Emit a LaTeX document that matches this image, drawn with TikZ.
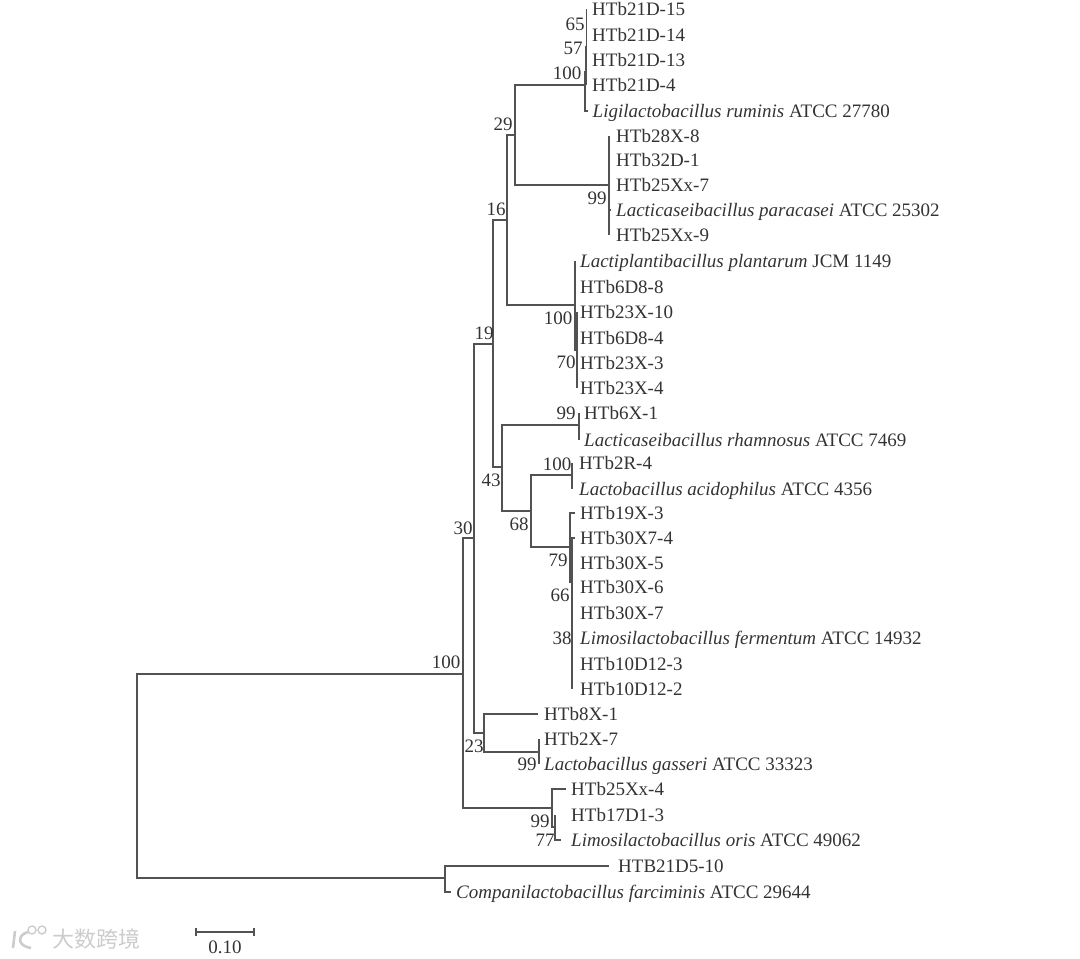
\documentclass[tikz,border=0pt]{standalone}
\usepackage{fontspec}
\setmainfont{Liberation Serif}
\newfontfamily\cjkfont{Noto Sans CJK SC}
\definecolor{treeline}{gray}{0.32}
\definecolor{treetext}{gray}{0.2}
\definecolor{markgray}{gray}{0.8}
\tikzset{
  branch/.style={draw=treeline,line width=1.2pt},
  leaf/.style={anchor=west,inner xsep=#1,inner ysep=0pt,text=treetext,font=\fontsize{19}{21}\selectfont,text height=16pt,text depth=4pt},
  boot/.style={inner sep=0pt,text=treetext,font=\fontsize{19}{21}\selectfont}
}
\newcommand{\leafnode}[5]{\node[leaf=#5pt] (#1) at (#2,#3) {#4};}
\newcommand{\innode}[3]{\coordinate (#1) at (#2,#3);}
\newcommand{\bootval}[4]{\node[boot] (#1) at (#2,#3) {#4};}

\begin{document}
\begin{tikzpicture}[x=1pt,y=-1pt]
\useasboundingbox (0,0) rectangle (1080,959);
% inner nodes
\innode{root}{137}{776}
\innode{nTop}{463}{674}
\innode{nOut}{445}{878}
\innode{nThirty}{474}{538}
\innode{nOris}{552}{808}
\innode{nNineteen}{493}{344}
\innode{nGas}{484}{733}
\innode{nSixteen}{507}{220}
\innode{nFortythree}{502}{467}
\innode{nTwentynine}{515}{135}
\innode{nPlant}{575}{305}
\innode{nRum}{585}{85}
\innode{nPara}{609}{185}
\innode{nFiftyseven}{586}{72}
\innode{nSixtyfive}{586.8}{47}
\innode{nSeventy}{577}{350}
\innode{nRham}{579}{425}
\innode{nSixtyeight}{531}{511}
\innode{nAcid}{572}{475}
\innode{nSeventynine}{570}{547}
\innode{nSixtysix}{572}{582}
\innode{nThirtyeight}{572}{626}
\innode{nGasseri}{539}{752}
\innode{nSeventyseven}{555}{827}
% leaves
\leafnode{hA}{586.8}{9}{HTb21D-15}{5.2}
\leafnode{hB}{586.8}{35}{HTb21D-14}{5.2}
\leafnode{hC}{586}{60}{HTb21D-13}{6}
\leafnode{hD}{586}{85}{HTb21D-4}{6}
\leafnode{sRum}{587.5}{111}{\textit{Ligilactobacillus ruminis} ATCC 27780}{5}
\leafnode{hE}{609}{136}{HTb28X-8}{7}
\leafnode{hF}{609}{160}{HTb32D-1}{7}
\leafnode{hG}{609}{185}{HTb25Xx-7}{7}
\leafnode{sPara}{611}{210}{\textit{Lacticaseibacillus paracasei} ATCC 25302}{5}
\leafnode{hH}{609}{235}{HTb25Xx-9}{7}
\leafnode{sPlant}{575}{261}{\textit{Lactiplantibacillus plantarum} JCM 1149}{5}
\leafnode{hI}{575}{287}{HTb6D8-8}{5}
\leafnode{hJ}{577}{312}{HTb23X-10}{3}
\leafnode{hK}{577}{338}{HTb6D8-4}{3}
\leafnode{hL}{577}{363}{HTb23X-3}{3}
\leafnode{hM}{577}{388}{HTb23X-4}{3}
\leafnode{hN}{579}{413}{HTb6X-1}{5}
\leafnode{sRham}{579}{440}{\textit{Lacticaseibacillus rhamnosus} ATCC 7469}{5}
\leafnode{hO}{572}{463}{HTb2R-4}{7}
\leafnode{sAcid}{572}{489}{\textit{Lactobacillus acidophilus} ATCC 4356}{7}
\leafnode{hP}{575}{513}{HTb19X-3}{5}
\leafnode{hQ}{575}{538}{HTb30X7-4}{5}
\leafnode{hR}{572}{563}{HTb30X-5}{8}
\leafnode{hS}{572}{587}{HTb30X-6}{8}
\leafnode{hT}{572}{613}{HTb30X-7}{8}
\leafnode{sFerm}{572}{638}{\textit{Limosilactobacillus fermentum} ATCC 14932}{8}
\leafnode{hU}{572}{664}{HTb10D12-3}{8}
\leafnode{hV}{572}{689}{HTb10D12-2}{8}
\leafnode{hW}{538}{714}{HTb8X-1}{6}
\leafnode{hX}{539}{739}{HTb2X-7}{5}
\leafnode{sGas}{539}{764}{\textit{Lactobacillus gasseri} ATCC 33323}{5}
\leafnode{hY}{566}{789}{HTb25Xx-4}{5}
\leafnode{hZ}{555}{815}{HTb17D1-3}{16}
\leafnode{sOris}{561}{840}{\textit{Limosilactobacillus oris} ATCC 49062}{10}
\leafnode{hOut}{609}{866}{HTB21D5-10}{9}
\leafnode{sFarc}{451}{892}{\textit{Companilactobacillus farciminis} ATCC 29644}{5}
% branches
\draw[branch] (root) |- (nTop);
\draw[branch] (root) |- (nOut);
\draw[branch] (nOut) |- (hOut.west);
\draw[branch] (nOut) |- (sFarc.west);
\draw[branch] (nTop) |- (nThirty);
\draw[branch] (nTop) |- (nOris);
\draw[branch] (nThirty) |- (nNineteen);
\draw[branch] (nThirty) |- (nGas);
\draw[branch] (nNineteen) |- (nSixteen);
\draw[branch] (nNineteen) |- (nFortythree);
\draw[branch] (nSixteen) |- (nTwentynine);
\draw[branch] (nSixteen) |- (nPlant);
\draw[branch] (nTwentynine) |- (nRum);
\draw[branch] (nTwentynine) |- (nPara);
\draw[branch] (nRum) |- (sRum.west);
\draw[branch] (nRum) |- (nFiftyseven);
\draw[branch] (nFiftyseven) |- (hD.west);
\draw[branch] (nFiftyseven) |- (hC.west);
\draw[branch] (nFiftyseven) |- (nSixtyfive);
\draw[branch] (nSixtyfive) |- (hA.west);
\draw[branch] (nSixtyfive) |- (hB.west);
\draw[branch] (nPara) |- (hE.west);
\draw[branch] (nPara) |- (sPara.west);
\draw[branch] (nPara) |- (hH.west);
\draw[branch] (nPlant) |- (sPlant.west);
\draw[branch] (nPlant) |- (nSeventy);
\draw[branch] (nSeventy) |- (hJ.west);
\draw[branch] (nSeventy) |- (hM.west);
\draw[branch] (nFortythree) |- (nRham);
\draw[branch] (nFortythree) |- (nSixtyeight);
\draw[branch] (nRham) |- (hN.west);
\draw[branch] (nRham) |- (sRham.west);
\draw[branch] (nSixtyeight) |- (nAcid);
\draw[branch] (nSixtyeight) |- (nSeventynine);
\draw[branch] (nAcid) |- (hO.west);
\draw[branch] (nAcid) |- (sAcid.west);
\draw[branch] (nSeventynine) |- (hP.west);
\draw[branch] (nSeventynine) |- (nSixtysix);
\draw[branch] (nSixtysix) |- (hQ.west);
\draw[branch] (nSixtysix) |- (nThirtyeight);
\draw[branch] (nThirtyeight) |- (hV.west);
\draw[branch] (nGas) |- (hW.west);
\draw[branch] (nGas) |- (nGasseri);
\draw[branch] (nGasseri) |- (hX.west);
\draw[branch] (nGasseri) |- (sGas.west);
\draw[branch] (nOris) |- (hY.west);
\draw[branch] (nOris) |- (nSeventyseven);
\draw[branch] (nSeventyseven) |- (hZ.west);
\draw[branch] (nSeventyseven) |- (sOris.west);
% support values
\bootval{bA}{575}{24}{65}
\bootval{bB}{573}{48}{57}
\bootval{bC}{567}{73}{100}
\bootval{bD}{503}{124}{29}
\bootval{bE}{496}{209}{16}
\bootval{bF}{597}{198}{99}
\bootval{bG}{558}{318}{100}
\bootval{bH}{566}{362}{70}
\bootval{bI}{484}{333}{19}
\bootval{bJ}{566}{413}{99}
\bootval{bK}{557}{464}{100}
\bootval{bL}{491}{480}{43}
\bootval{bM}{519}{524}{68}
\bootval{bN}{558}{560}{79}
\bootval{bO}{560}{595}{66}
\bootval{bP}{562}{638}{38}
\bootval{bQ}{463}{528}{30}
\bootval{bR}{446}{662}{100}
\bootval{bS}{474}{746}{23}
\bootval{bT}{527}{764}{99}
\bootval{bU}{540}{821}{99}
\bootval{bV}{545}{840}{77}
% scale bar
\coordinate (sbL) at (196,932);
\coordinate (sbR) at (254,932);
\draw[branch] ([yshift=4pt]sbL) -- ([yshift=-4pt]sbL);
\draw[branch] ([yshift=4pt]sbR) -- ([yshift=-4pt]sbR);
\draw[branch] (sbL) -- (sbR);
\node[boot] (sbText) at (225,947) {0.10};
% watermark
\draw[markgray,line width=2.6pt] (15,931) -- (13,948);
\draw[markgray,line width=2.6pt] (28,932) .. controls (17,935) and (17,946) .. (31,948);
\draw[markgray,line width=1.4pt] (32,930) circle[radius=4pt];
\draw[markgray,line width=1.4pt] (42,930) circle[radius=4pt];
\node[inner sep=0pt,text=markgray,font=\cjkfont\fontsize{22}{24}\selectfont,anchor=west] (markText) at (52,939) {大数跨境};
\end{tikzpicture}
\end{document}
